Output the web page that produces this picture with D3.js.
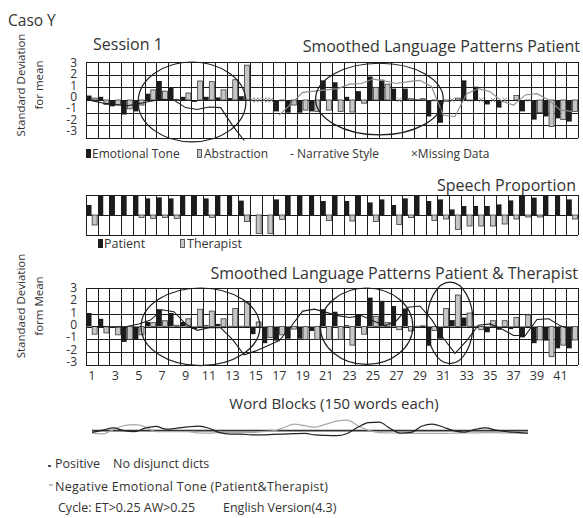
<!DOCTYPE html>
<html>
<head>
<meta charset="utf-8">
<script src="https://cdn.jsdelivr.net/npm/d3@7"></script>
<style>
  body { margin: 0; background: #fff; }
  text { font-family: "Open Sans", "Noto Sans", sans-serif; fill: #333; }
</style>
</head>
<body>
<svg id="chart" width="583" height="518"></svg>
<script>
// ---- data (one entry per 150-word block, block 1..42) ----
const blockLabels = d3.range(1, 43, 2);
const yTicks = [3, 2, 1, 0, -1, -2, -3];

// Session 1 - Smoothed Language Patterns Patient
const emotionalTone = [0.35, 0.25, -0.5, -1.15, -0.9, 0.5, 1.5, 1.0, 0.25, -0.15, 0.25, 0.2, 0.15, 0.3,
  null, null, -0.9, -1.0, -1.0, -0.9, 1.55, 1.4, 0.25, 0.7, 1.85, 1.6, 0.9, 0.9, 0.05, -1.3,
  -1.8, null, 1.55, 1.05, -0.35, -0.6, 0.0, -0.9, -1.55, -1.3, -1.45, -1.7];
const abstraction = [0.15, -0.35, -0.4, -0.7, -0.4, 0.8, 0.7, 0.05, 0.55, 1.5, 1.45, 0.8, 1.6, 2.75,
  null, null, 0.0, -0.4, -0.8, -0.9, -0.8, -0.9, -0.95, -0.25, 1.0, 1.25, null, 0.1, 0.1, 0.0,
  -0.1, 0.15, 0.0, null, null, null, 0.35, 0.0, -1.0, -2.1, -1.55, -0.9];
const narrativeStyle = [-0.05, -0.25, -0.35, -0.45, -0.3, -0.1, 0.05, 0.0, -0.6, -0.75, -0.55, -0.6, -2.0, -3.2,
  null, null, -1.2, -0.3, 0.6, 0.7, 0.8, 0.9, 1.25, 1.3, 1.65, 1.5, 1.3, 1.45, 1.55, 1.05,
  -1.2, -1.3, 0.5, 0.9, 0.65, -0.1, -0.4, 0.4, 0.5, 0.0, -0.8, -0.9];
// circled episodes: [first block, last block, top sd, bottom sd]
const cyclesTop = [[4.45, 13.65, 3.0, -3.3], [19.6, 30.5, 2.9, -2.75]];

// Speech Proportion
const patientShare = [0.5, 1, 1, 1, 1, 0.83, 0.88, 0.83, 1, 1, 0.83, 1, 1, 0.72, 0, 0, 0.78, 1, 1, 1,
  0.7, 1, 0.7, 1, 0.63, 0.78, 0.5, 0.83, 1, 0.7, 0.78, 0.28, 0.45, 0.45, 0.45, 0.53, 0.73, 1, 0.87, 1, 1, 0.78];
const therapistShare = [0.5, 0, 0, 0, 0.12, 0.17, 0.12, 0.17, 0, 0, 0.12, 0, 0, 0.33, 0.92, 0.92, 0.22, 0, 0, 0,
  0.28, 0, 0.3, 0, 0.33, 0, 0.47, 0.13, 0, 0.27, 0.2, 0.72, 0.55, 0.55, 0.55, 0.45, 0.2, 0.1, 0.1, 0, 0, 0.2];

// Smoothed Language Patterns Patient & Therapist
const toneBoth = [1.05, 0.6, -0.1, -1.2, -1.05, 0.35, 1.35, 1.05, 0.35, -0.2, 0.1, 0.2, 0.05, 0.05,
  -0.6, -1.3, -1.1, -0.95, -0.95, -0.35, 1.35, 1.15, 0.1, 0.95, 2.25, 2.0, 1.6, 1.4, 0.05, -1.5,
  -0.95, 0.5, 0.7, 0.05, -0.45, -0.25, -0.2, -0.85, -1.3, -1.1, -1.7, -1.7];
const abstractionBoth = [-0.6, -0.5, -0.65, -1.0, -0.65, 0.3, 0.45, 0.1, 0.6, 1.35, 1.2, 0.6, 1.4, 1.85,
  0.35, -0.85, -0.65, -0.2, -1.0, -1.0, -1.0, -1.0, -1.45, -0.6, 0.8, 0.3, -0.25, -0.35, 0.05, -0.3,
  1.4, 2.45, 1.05, -0.25, 0.45, 0.45, 0.7, 0.9, -1.05, -2.35, -1.45, -1.05];
const narrativeBoth = [0.0, 0.0, -0.05, 0.0, 0.2, 0.5, 1.3, 1.15, 0.2, -0.3, -0.1, -0.1, -1.0, -2.2,
  -1.9, -1.5, -1.1, 0.0, 1.2, 1.35, 1.1, 0.85, 0.7, 0.85, 0.45, 0.05, 0.45, 1.5, 1.6, 0.55,
  -0.9, -2.1, -1.1, 0.1, 0.2, -0.2, -0.7, -0.7, 0.55, 0.6, 0.05, -0.3];
const cyclesBoth = [[4.7, 14.85, 3.0, -3.05], [20.0, 27.9, 3.0, -2.95], [29.1, 33.05, 3.45, -2.9]];

// small overview lines (emotional tone patient / therapist)
const overviewPatient = [-0.35, 0.1, 0.55, 0.0, -0.2, 0.5, 0.85, 0.3, 0.5, 0.75, 0.9, 0.5, -0.4, -0.67,
  -0.67, -0.85, -0.85, -0.75, -0.67, -0.6, -0.55, -0.85, -0.95, -1.0, -0.55, 0.7, 1.6, 1.7, 0.5, -0.5,
  -0.35, 0.9, 1.3, 0.75, 0.0, -0.3, 0.25, 0.55, 0.1, -0.2, -0.35, -0.5];
const overviewTherapist = [-0.45, -0.65, 0.2, 1.0, 1.2, 0.8, -0.2, -0.2, -0.2, -0.2, -0.45, -0.5, -0.4, -0.4,
  -0.4, -0.4, -0.2, -0.05, 0.6, 1.3, 1.0, 0.7, 1.3, 1.9, 2.1, 1.0, 0.1, -0.4, -0.45, -0.5,
  -0.53, -0.53, -0.53, -0.53, -0.5, -0.45, -0.42, -0.4, -0.4, -0.45, -0.5, -0.53];

// ---- drawing ----
const svg = d3.select('#chart');
const n = emotionalTone.length;
const x = d3.scaleBand().domain(d3.range(n)).range([86, 578]);
const sub = d3.scaleBand().domain(['tone', 'abs']).range([0, x.bandwidth()])
  .paddingInner(0.12).paddingOuter(0.1);
const xBlock = d3.scaleLinear().domain([0, n]).range([86, 578]);
const xMid = i => x(i) + x.bandwidth() / 2;
const indexed = arr => arr.map((v, i) => ({ i, v })).filter(d => d.v !== null);

const INK = '#1c1c1c', GREY = '#c6c6c6', EDGE = '#3a3a3a';

function grid(g, y, ticks) {
  g.append('g').selectAll('line').data(ticks).join('line')
    .attr('x1', x.range()[0]).attr('x2', x.range()[1])
    .attr('y1', d => Math.round(y(d)) + 0.5).attr('y2', d => Math.round(y(d)) + 0.5)
    .attr('stroke', INK).attr('stroke-width', 1);
  g.append('g').selectAll('line').data(d3.range(n + 1)).join('line')
    .attr('x1', d => Math.round(xBlock(d)) + 0.5).attr('x2', d => Math.round(xBlock(d)) + 0.5)
    .attr('y1', y(ticks[0])).attr('y2', y(ticks[ticks.length - 1]))
    .attr('stroke', INK).attr('stroke-width', 1);
}

function bars(g, y, tone, abs) {
  g.append('g').selectAll('rect').data(indexed(abs)).join('rect')
    .attr('x', d => x(d.i) + sub('abs'))
    .attr('width', sub.bandwidth())
    .attr('y', d => y(Math.max(0, d.v)))
    .attr('height', d => Math.max(0.8, Math.abs(y(d.v) - y(0))))
    .attr('fill', GREY).attr('stroke', EDGE).attr('stroke-width', 0.8);
  g.append('g').selectAll('rect').data(indexed(tone)).join('rect')
    .attr('x', d => x(d.i) + sub('tone'))
    .attr('width', sub.bandwidth())
    .attr('y', d => y(Math.max(0, d.v)))
    .attr('height', d => Math.max(0.8, Math.abs(y(d.v) - y(0))))
    .attr('fill', INK);
}

function cycles(g, y, list) {
  g.append('g').selectAll('ellipse').data(list).join('ellipse')
    .attr('cx', d => (xBlock(d[0]) + xBlock(d[1])) / 2)
    .attr('cy', d => (y(d[2]) + y(d[3])) / 2)
    .attr('rx', d => (xBlock(d[1]) - xBlock(d[0])) / 2)
    .attr('ry', d => (y(d[3]) - y(d[2])) / 2)
    .attr('fill', 'none').attr('stroke', INK).attr('stroke-width', 1.2);
}

function yLabels(g, yl) {
  g.append('g').selectAll('text').data(yTicks).join('text')
    .attr('x', 77).attr('y', d => yl(d)).attr('dy', '0.34em')
    .attr('text-anchor', 'end').attr('font-size', 12)
    .text(d => d < 0 ? '-' + Math.abs(d) : d);
}

function vTitle(g, lines, cy) {
  lines.forEach((t, k) => {
    g.append('text')
      .attr('transform', `translate(${25 + k * 18},${cy}) rotate(-90)`)
      .attr('text-anchor', 'middle').attr('font-size', 11.5).text(t);
  });
}

// header
svg.append('text').attr('x', 8).attr('y', 26).attr('font-size', 15.5).text('Caso Y');

// ---- top panel ----
const yTop = d3.scaleLinear().domain([-3, 3]).range([138, 62]);
const gTop = svg.append('g');
grid(gTop, yTop, yTicks);
bars(gTop, yTop, emotionalTone, abstraction);

// narrative line, one stroke per run of available blocks
const runs = [];
narrativeStyle.forEach((v, i) => {
  if (v === null) return;
  if (!runs.length || narrativeStyle[i - 1] === null) runs.push([]);
  runs[runs.length - 1].push([i, v]);
});
const runColor = ['#1c1c1c', '#8c8c8c'];
const line = y => d3.line().x(d => xMid(d[0])).y(d => y(d[1]));
gTop.append('g').selectAll('path').data(runs).join('path')
  .attr('d', line(yTop)).attr('fill', 'none')
  .attr('stroke', (d, i) => runColor[Math.min(i, 1)]).attr('stroke-width', 1.1);

// missing-data marks
const xMark = d3.symbol(d3.symbolX, 14);
const marks = [];
d3.range(n).forEach(i => {
  const a = emotionalTone[i] === null, b = abstraction[i] === null;
  if (a && b) [0.2, 0.5, 0.8].forEach(f => marks.push(x(i) + f * x.bandwidth()));
  else if (a) marks.push(x(i) + sub('tone') + sub.bandwidth() / 2);
  else if (b) marks.push(x(i) + sub('abs') + sub.bandwidth() / 2);
});
gTop.append('g').selectAll('path').data(marks).join('path')
  .attr('d', xMark).attr('transform', d => `translate(${d},${yTop(0)})`)
  .attr('fill', 'none').attr('stroke', '#777').attr('stroke-width', 0.9);
cycles(gTop, yTop, cyclesTop);
yLabels(svg, d3.scaleLinear().domain([-3, 3]).range([131, 63]));
vTitle(svg, ['Standard Deviation', 'for mean'], 85);
svg.append('text').attr('x', 93).attr('y', 50).attr('font-size', 16).text('Session 1');
svg.append('text').attr('x', 580).attr('y', 52).attr('text-anchor', 'end').attr('font-size', 16)
  .text('Smoothed Language Patterns Patient');

// top legend
const legTop = svg.append('g');
legTop.append('rect').attr('x', 86).attr('y', 149).attr('width', 5).attr('height', 9).attr('fill', INK);
legTop.append('text').attr('x', 92).attr('y', 158).attr('font-size', 12).text('Emotional Tone');
legTop.append('rect').attr('x', 197.5).attr('y', 149.5).attr('width', 4).attr('height', 8)
  .attr('fill', GREY).attr('stroke', EDGE).attr('stroke-width', 0.8);
legTop.append('text').attr('x', 204).attr('y', 158).attr('font-size', 12).text('Abstraction');
legTop.append('text').attr('x', 290).attr('y', 158).attr('font-size', 12).text('- Narrative Style');
legTop.append('text').attr('x', 411).attr('y', 158).attr('font-size', 12).text('\u00d7Missing Data');

// ---- speech proportion ----
const ySp = d3.scaleLinear().domain([-1, 1]).range([235, 195]);
const gSp = svg.append('g');
grid(gSp, ySp, [1, 0, -1]);
gSp.append('g').selectAll('rect').data(indexed(therapistShare).filter(d => d.v > 0)).join('rect')
  .attr('x', d => x(d.i) + sub('abs')).attr('width', sub.bandwidth())
  .attr('y', ySp(0)).attr('height', d => ySp(0) - ySp(d.v))
  .attr('fill', GREY).attr('stroke', EDGE).attr('stroke-width', 0.8);
gSp.append('g').selectAll('rect').data(indexed(patientShare).filter(d => d.v > 0)).join('rect')
  .attr('x', d => x(d.i) + sub('tone')).attr('width', sub.bandwidth())
  .attr('y', d => ySp(d.v)).attr('height', d => ySp(0) - ySp(d.v))
  .attr('fill', INK);
svg.append('text').attr('x', 576).attr('y', 191).attr('text-anchor', 'end').attr('font-size', 16)
  .text('Speech Proportion');
svg.append('rect').attr('x', 98).attr('y', 239).attr('width', 5).attr('height', 9).attr('fill', INK);
svg.append('text').attr('x', 104).attr('y', 248).attr('font-size', 12.5).text('Patient');
svg.append('rect').attr('x', 180.5).attr('y', 239.5).attr('width', 4).attr('height', 8)
  .attr('fill', GREY).attr('stroke', EDGE).attr('stroke-width', 0.8);
svg.append('text').attr('x', 187).attr('y', 248).attr('font-size', 12.5).text('Therapist');

// ---- bottom panel ----
const yBot = d3.scaleLinear().domain([-3, 3]).range([365, 288]);
const gBot = svg.append('g');
grid(gBot, yBot, yTicks);
bars(gBot, yBot, toneBoth, abstractionBoth);
gBot.append('path').datum(narrativeBoth.map((v, i) => [i, v]))
  .attr('d', line(yBot)).attr('fill', 'none').attr('stroke', INK).attr('stroke-width', 1.1);
cycles(gBot, yBot, cyclesBoth);
yLabels(svg, d3.scaleLinear().domain([-3, 3]).range([362, 288]));
vTitle(svg, ['Standaed Deviation', 'form Mean'], 306);
svg.append('text').attr('x', 578).attr('y', 279).attr('text-anchor', 'end').attr('font-size', 16)
  .text('Smoothed Language Patterns Patient & Therapist');
svg.append('g').selectAll('text').data(blockLabels).join('text')
  .attr('x', d => xMid(d - 1)).attr('y', 380).attr('text-anchor', 'middle')
  .attr('font-size', 12.5).text(d => d);
svg.append('text').attr('x', 334).attr('y', 409).attr('text-anchor', 'middle').attr('font-size', 15)
  .text('Word Blocks (150 words each)');

// ---- overview lines ----
const xOv = d3.scaleLinear().domain([0, n - 1]).range([92, 528]);
const yOv = d3.scaleLinear().domain([-3, 3]).range([445.7, 415.7]);
const lineOv = d3.line().x((d, i) => xOv(i)).y(d => yOv(d)).curve(d3.curveMonotoneX);
svg.append('line').attr('x1', xOv(0)).attr('x2', xOv(n - 1)).attr('y1', yOv(0)).attr('y2', yOv(0))
  .attr('stroke', '#333').attr('stroke-width', 1.8);
svg.append('path').datum(overviewTherapist).attr('d', lineOv)
  .attr('fill', 'none').attr('stroke', '#aaa').attr('stroke-width', 1.2);
svg.append('path').datum(overviewPatient).attr('d', lineOv)
  .attr('fill', 'none').attr('stroke', '#222').attr('stroke-width', 1.2);

// ---- notes ----
const notes = svg.append('g').attr('font-size', 12.5);
notes.append('line').attr('x1', 48).attr('x2', 51).attr('y1', 466).attr('y2', 466)
  .attr('stroke', '#222').attr('stroke-width', 1.6);
notes.append('text').attr('x', 55).attr('y', 468).text('Positive');
notes.append('text').attr('x', 113).attr('y', 468).text('No disjunct dicts');
notes.append('line').attr('x1', 49).attr('x2', 53).attr('y1', 485).attr('y2', 485)
  .attr('stroke', '#888').attr('stroke-width', 1);
notes.append('text').attr('x', 55).attr('y', 491).attr('textLength', 273)
  .text('Negative Emotional Tone (Patient&Therapist)');
notes.append('text').attr('x', 58).attr('y', 512).text('Cycle: ET>0.25 AW>0.25');
notes.append('text').attr('x', 223).attr('y', 512).text('English Version(4.3)');
</script>
</body>
</html>
